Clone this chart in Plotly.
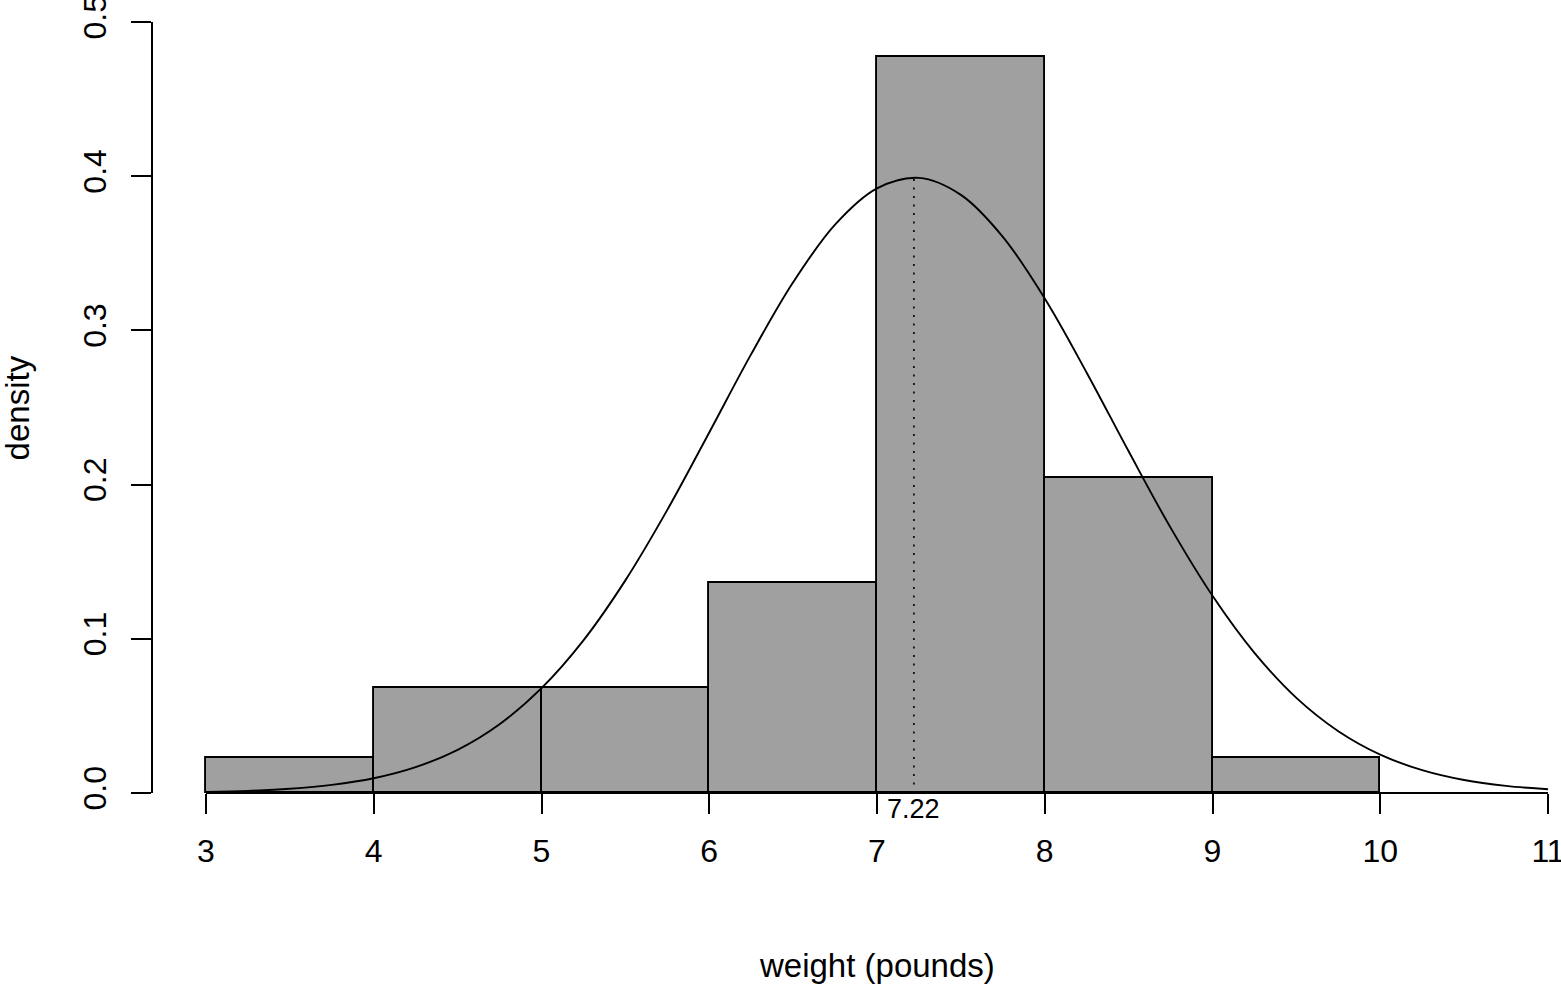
import plotly.graph_objects as go

# ---- data ----
bin_left = [3, 4, 5, 6, 7, 8, 9]
bin_right = [4, 5, 6, 7, 8, 9, 10]
bin_density = [0.0227, 0.0682, 0.0682, 0.1364, 0.4773, 0.2045, 0.0227]

curve_x = [3.0, 3.25, 3.5, 3.75, 4.0, 4.25, 4.5, 4.75, 5.0, 5.25, 5.5, 5.75,
           6.0, 6.25, 6.5, 6.75, 7.0, 7.25, 7.5, 7.75, 8.0, 8.25, 8.5, 8.75,
           9.0, 9.25, 9.5, 9.75, 10.0, 10.25, 10.5, 10.75, 11.0]
curve_y = [0.0007, 0.0014, 0.0028, 0.0053, 0.0096, 0.0168, 0.0280, 0.0446,
           0.0680, 0.0990, 0.1379, 0.1836, 0.2338, 0.2846, 0.3312, 0.3686,
           0.3921, 0.3989, 0.3879, 0.3607, 0.3207, 0.2726, 0.2216, 0.1721,
           0.1279, 0.0909, 0.0617, 0.0401, 0.0249, 0.0148, 0.0084, 0.0046,
           0.0024]

mean_weight = 7.22
mean_density = 0.399
mean_label = "7.22"

x_ticks = [3, 4, 5, 6, 7, 8, 9, 10, 11]
x_tick_labels = ["3", "4", "5", "6", "7", "8", "9", "10", "11"]
y_ticks = [0.0, 0.1, 0.2, 0.3, 0.4, 0.5]
y_tick_labels = ["0.0", "0.1", "0.2", "0.3", "0.4", "0.5"]

x_title = "weight (pounds)"
y_title = "density"

FONT = "Liberation Sans, Arial, Helvetica, sans-serif"

fig = go.Figure()

fig.add_trace(go.Bar(
    x=[(a + b) / 2 for a, b in zip(bin_left, bin_right)],
    y=bin_density,
    width=[b - a for a, b in zip(bin_left, bin_right)],
    marker=dict(color="#a0a0a0", line=dict(color="black", width=1.9)),
    hoverinfo="skip",
    showlegend=False,
))

fig.add_trace(go.Scatter(
    x=[mean_weight, mean_weight], y=[0, mean_density],
    mode="lines",
    line=dict(color="black", width=1.6, dash="2px,6.5px"),
    showlegend=False, hoverinfo="skip",
))

fig.add_trace(go.Scatter(
    x=curve_x, y=curve_y,
    mode="lines",
    line=dict(color="black", width=1.9, shape="spline", smoothing=1.0),
    showlegend=False, hoverinfo="skip",
))

# x axis baseline (R style, from first to last tick)
fig.add_shape(type="line", xref="x", yref="paper",
              x0=x_ticks[0], x1=x_ticks[-1], y0=0, y1=0,
              line=dict(color="black", width=1.9), layer="above")

fig.add_annotation(x=mean_weight, xref="x", y=-0.0208, yref="paper",
                   text=mean_label, showarrow=False,
                   xanchor="center", yanchor="middle",
                   font=dict(family=FONT, size=27, color="black"))

fig.add_annotation(x=7.0, xref="x", y=-0.2231, yref="paper",
                   text=x_title, showarrow=False,
                   xanchor="center", yanchor="middle",
                   font=dict(family=FONT, size=33, color="black"))

fig.add_annotation(x=-0.0963, xref="paper", y=0.5, yref="paper",
                   text=y_title, showarrow=False, textangle=-90,
                   xanchor="center", yanchor="middle",
                   font=dict(family=FONT, size=33, color="black"))

fig.update_layout(
    width=1561, height=984, autosize=False,
    margin=dict(l=153, r=5, t=22, b=191, pad=0, autoexpand=False),
    paper_bgcolor="white", plot_bgcolor="white",
    font=dict(family=FONT, size=32, color="black"),
    bargap=0,
    xaxis=dict(
        range=[2.68405, 11.0477],
        tickmode="array", tickvals=x_ticks, ticktext=x_tick_labels,
        ticks="outside", ticklen=20, tickwidth=1.9, tickcolor="black",
        showline=False, showgrid=False, zeroline=False,
        tickfont=dict(family=FONT, size=32, color="black"),
        ticklabelstandoff=10, ticklabeloverflow="allow",
        automargin=False,
        fixedrange=True,
    ),
    yaxis=dict(
        range=[0, 0.50002],
        tickmode="array", tickvals=y_ticks, ticktext=y_tick_labels,
        ticks="outside", ticklen=20, tickwidth=1.9, tickcolor="black",
        showline=True, linecolor="black", linewidth=1.9,
        showgrid=False, zeroline=False, tickangle=-90,
        tickfont=dict(family=FONT, size=32, color="black"),
        ticklabelstandoff=12, ticklabeloverflow="allow",
        automargin=False,
        fixedrange=True,
    ),
)

fig.write_html("out.html")
